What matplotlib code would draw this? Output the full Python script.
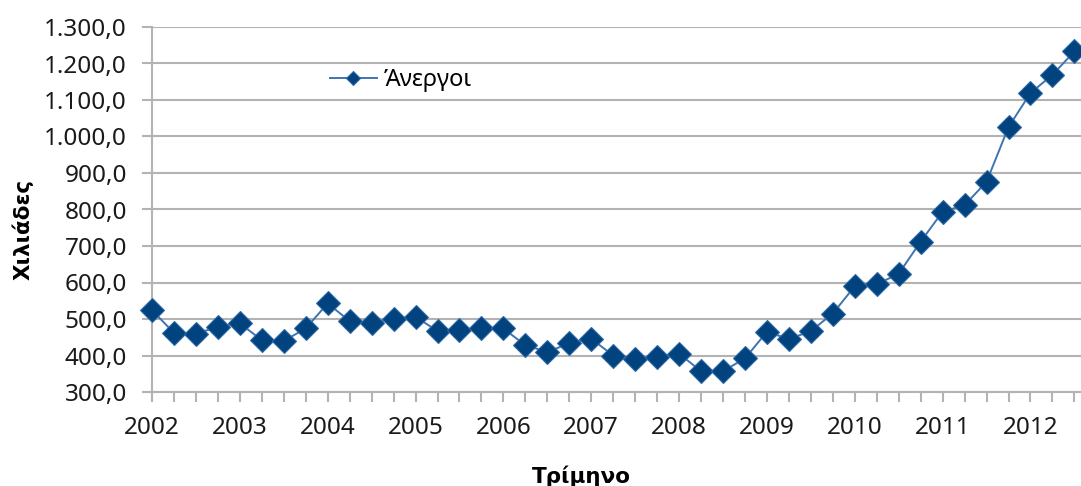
import matplotlib
matplotlib.use("Agg")
import matplotlib.pyplot as plt

# Ανεργοι (χιλιάδες), τριμηνιαία 2002Q1 - 2012Q3
years = list(range(2002, 2013))
unemployed = [524, 462, 460, 478, 488, 442, 440, 474,
              543, 494, 488, 501, 506, 467, 469, 474,
              474, 428, 410, 433, 446, 400, 390, 396,
              405, 357, 357, 392, 465, 445, 467, 515,
              590, 595, 624, 712, 794, 812, 876, 1026,
              1119, 1169, 1233]
y_ticks = list(range(300, 1301, 100))

GRID = "#b3b3b3"
LINE = "#3f74b1"
MARK = "#01437f"

plt.rcParams["font.family"] = ["Noto Sans", "DejaVu Sans"]

fig = plt.figure(figsize=(10.81, 4.86), dpi=100)
ax = fig.add_axes([152 / 1081, 1 - 392 / 486, (1081 - 152) / 1081, (392 - 27) / 486])

x = list(range(len(unemployed)))
ax.plot(x, unemployed, "-", color=LINE, lw=1.4, marker="D", markersize=12.5,
        markerfacecolor=MARK, markeredgecolor="#2e67a3", markeredgewidth=0.8,
        label="Άνεργοι", zorder=3, clip_on=False)

ax.set_xlim(0, 42.3)
ax.set_ylim(300, 1300)
ax.set_yticks(y_ticks)
ax.set_yticklabels([f"{v:,.1f}".replace(",", "X").replace(".", ",").replace("X", ".")
                    for v in y_ticks])
ax.set_xticks(x)
ax.set_xticklabels([str(years[i // 4]) if i % 4 == 0 else "" for i in x])

ax.grid(axis="y", color=GRID, lw=1.5)
ax.set_axisbelow(True)
for side in ("top", "right"):
    ax.spines[side].set_visible(False)
for side in ("left", "bottom"):
    ax.spines[side].set_color(GRID)
    ax.spines[side].set_linewidth(1.5)

ax.tick_params(axis="y", length=7, width=1.5, color=GRID, pad=11, labelsize=17.5,
               labelcolor="#1a1a1a")
ax.tick_params(axis="x", length=7, width=1.5, color=GRID, pad=10, labelsize=17.5,
               labelcolor="#1a1a1a")

fig.text(23 / 1081, 1 - 229 / 486, "Χιλιάδες", rotation=90, ha="center", va="center",
         fontsize=15.5, fontweight="bold", family=["DejaVu Sans"])
fig.text(581 / 1081, 1 - 465 / 486, "Τρίμηνο", ha="center", va="top",
         fontsize=15.5, fontweight="bold", family=["DejaVu Sans"])

fig.legend(loc="center left", bbox_to_anchor=(318 / 1081, 1 - 80 / 486), frameon=False,
           borderpad=0, handlelength=2.0, handletextpad=0.3, markerscale=0.6,
           fontsize=17)

fig.savefig("out.png", dpi=100)
